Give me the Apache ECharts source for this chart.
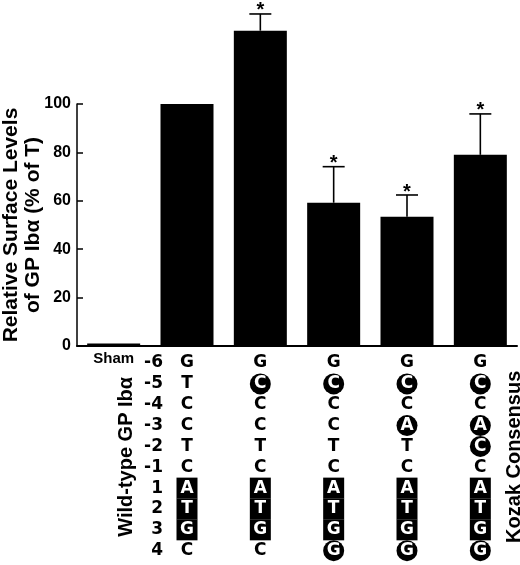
<!DOCTYPE html>
<html>
<head>
<meta charset="utf-8">
<script src="https://cdn.jsdelivr.net/npm/echarts@6/dist/echarts.min.js"></script>
<style>html,body{margin:0;padding:0;background:#fff;}#c{width:520px;height:565px;}</style>
</head>
<body>
<div id="c"></div>
<script>
// ---- data ----
const categories = ['Sham', 'T', '-5C', '-5C/+4G', '-5C/-3A/+4G', 'Kozak'];
const barValues = [1, 100, 130.3, 59.2, 53.4, 79];
const errUpper = [null, null, 137.2, 74.1, 62.4, 95.9];
const significant = [false, false, true, true, true, true];
const yTicks = [0, 20, 40, 60, 80, 100];
const rowLabels = ['-6', '-5', '-4', '-3', '-2', '-1', '1', '2', '3', '4'];
const startCodonRows = ['1', '2', '3'];
const seqT     = ['G','T','C','C','T','C','A','T','G','C'];
const seqM1    = ['G','C','C','C','T','C','A','T','G','C'];
const seqM2    = ['G','C','C','C','T','C','A','T','G','G'];
const seqM3    = ['G','C','C','A','T','C','A','T','G','G'];
const seqKozak = ['G','C','C','A','C','C','A','T','G','G'];
const sequences = [null, seqT, seqM1, seqM2, seqM3, seqKozak];

// ---- build table data ----
const plain = [], circled = [], boxed = [];
sequences.forEach(function (seq, col) {
  if (!seq) return;
  seq.forEach(function (letter, r) {
    const item = [col, r, letter];
    if (startCodonRows.indexOf(rowLabels[r]) >= 0) boxed.push(item);
    else if (letter !== seqT[r]) circled.push(item);
    else plain.push(item);
  });
});
const errData = [];
errUpper.forEach(function (e, i) { if (e != null) errData.push([i, barValues[i], e, significant[i] ? 1 : 0]); });

const FONT = 'Liberation Sans';
const TFONT = 'DejaVu Sans';
const letterLabel = function (color) {
  return { show: true, position: 'inside', formatter: function (p) { return p.value[2]; },
    color: color, fontFamily: TFONT, fontWeight: 'bold', fontSize: 17 };
};

const chart = echarts.init(document.getElementById('c'), null, { renderer: 'canvas' });
chart.setOption({
  backgroundColor: '#fff',
  animation: false,
  textStyle: { fontFamily: FONT },
  grid: [
    { left: 77, right: 3, top: 104, height: 242, containLabel: false, outerBoundsMode: 'none' },
    { left: 77, right: 3, top: 352.6, height: 208.5, containLabel: false, outerBoundsMode: 'none' }
  ],
  xAxis: [
    { type: 'category', gridIndex: 0, data: categories,
      axisLine: { lineStyle: { color: '#000', width: 2 } },
      axisTick: { inside: true, length: 5, lineStyle: { color: '#000', width: 1.5 } },
      axisLabel: { interval: 0, margin: 5, color: '#000', fontFamily: FONT, fontWeight: 'bold', fontSize: 15,
        formatter: function (v) { return v === 'Sham' ? v : ''; } } },
    { type: 'category', gridIndex: 1, data: categories, show: false }
  ],
  yAxis: [
    { type: 'value', gridIndex: 0, min: yTicks[0], max: yTicks[yTicks.length - 1], interval: 20,
      splitLine: { show: false },
      axisLine: { show: true, lineStyle: { color: '#000', width: 1.5 } },
      axisTick: { show: true, inside: true, length: 6, lineStyle: { color: '#000', width: 1.5 } },
      axisLabel: { margin: 6, color: '#000', fontFamily: FONT, fontWeight: 'bold', fontSize: 16 },
      name: 'Relative Surface Levels\nof GP Ib\u03b1 (% of T)',
      nameLocation: 'middle', nameRotate: 90, nameGap: 33, nameMoveOverlap: false,
      nameTextStyle: { color: '#000', fontFamily: FONT, fontWeight: 'bold', fontSize: 21, lineHeight: 22 } },
    { type: 'category', gridIndex: 1, data: rowLabels, inverse: true, offset: -88,
      axisLine: { show: false }, axisTick: { show: false }, splitLine: { show: false },
      axisLabel: { interval: 0, hideOverlap: false, margin: 2, color: '#000', fontFamily: TFONT, fontWeight: 'bold', fontSize: 17, align: 'right' },
      name: 'Wild-type GP Ib\u03b1', nameLocation: 'middle', nameRotate: 90, nameGap: 29, nameMoveOverlap: false,
      nameTextStyle: { color: '#000', fontFamily: FONT, fontWeight: 'bold', fontSize: 20 } },
    { type: 'category', gridIndex: 1, data: rowLabels, inverse: true, position: 'right', offset: -15,
      axisLine: { show: false }, axisTick: { show: false }, axisLabel: { show: false }, splitLine: { show: false },
      name: 'Kozak Consensus', nameLocation: 'middle', nameRotate: 90, nameGap: 2, nameMoveOverlap: false,
      nameTextStyle: { color: '#000', fontFamily: FONT, fontWeight: 'bold', fontSize: 20 } }
  ],
  series: [
    { type: 'bar', xAxisIndex: 0, yAxisIndex: 0, data: barValues, barWidth: 53, clip: false,
      itemStyle: { color: '#000' } },
    { type: 'custom', xAxisIndex: 0, yAxisIndex: 0, data: errData, clip: false,
      renderItem: function (params, api) {
        const i = api.value(0);
        const base = api.coord([i, api.value(1)]);
        const top = api.coord([i, api.value(2)]);
        const children = [
          { type: 'line', shape: { x1: base[0], y1: base[1], x2: top[0], y2: top[1] },
            style: { stroke: '#000', lineWidth: 1.6 } },
          { type: 'line', shape: { x1: top[0] - 11, y1: top[1], x2: top[0] + 11, y2: top[1] },
            style: { stroke: '#000', lineWidth: 1.6 } }
        ];
        if (api.value(3)) {
          children.push({ type: 'text', x: top[0], y: top[1] - 3,
            style: { text: '*', fill: '#000', font: 'bold 20px "Liberation Sans"', align: 'center', verticalAlign: 'middle' } });
        }
        return { type: 'group', children: children };
      } },
    { type: 'scatter', xAxisIndex: 1, yAxisIndex: 1, data: plain, symbolSize: 1,
      itemStyle: { color: 'rgba(0,0,0,0)', opacity: 1 }, label: letterLabel('#000') },
    { type: 'scatter', xAxisIndex: 1, yAxisIndex: 1, data: boxed, symbol: 'rect', symbolSize: [21, 21],
      itemStyle: { color: '#000', opacity: 1 }, label: letterLabel('#fff') },
    { type: 'scatter', xAxisIndex: 1, yAxisIndex: 1, data: circled, symbol: 'circle', symbolSize: [21, 21],
      itemStyle: { color: '#000', opacity: 1 }, label: letterLabel('#fff') }
  ]
});
</script>
</body>
</html>
